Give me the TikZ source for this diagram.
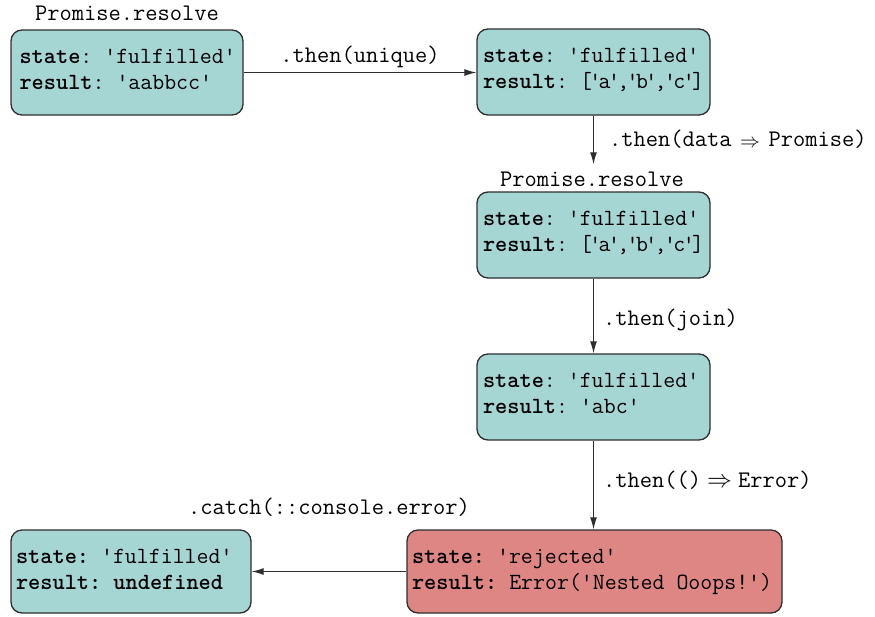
\documentclass[tikz,border=0pt]{standalone}
\usepackage{fontspec}
\usetikzlibrary{arrows.meta}
\definecolor{tealfill}{HTML}{A5D6D4}
\definecolor{redfill}{HTML}{DE8684}
\definecolor{edgecol}{HTML}{2E2E2E}
\newcommand{\arr}{\makebox[0.525em]{$\Rightarrow$}}
\newcommand{\sarr}{\makebox[0.525em]{\raisebox{-1pt}{\scalebox{0.8}{$\Rightarrow$}}}}
\newcommand{\nq}{\makebox[0.29em]{'}}
\newcommand{\boxtext}[4]{%
  \node[txt] (#1a) at ([shift={(#2pt,-34pt)}]#1.north west) {#3};
  \node[txt] (#1b) at ([shift={(#2pt,-60pt)}]#1.north west) {#4};}
\frenchspacing
\begin{document}
\frenchspacing
\begin{tikzpicture}[x=1pt,y=-1pt,
  font=\ttfamily\fontsize{23.2}{26}\selectfont\frenchspacing,
  box/.style={draw=edgecol, line width=1.3pt, rounded corners=11pt, inner sep=0pt},
  ok/.style={box, fill=tealfill},
  bad/.style={box, fill=redfill},
  txt/.style={inner sep=0pt, anchor=base west},
  conn/.style={draw=edgecol, line width=1.2pt, -{Latex[length=12pt,width=7pt]}},
  lbl/.style={inner sep=0pt, anchor=base, font=\ttfamily\fontsize{23.8}{26}\selectfont\frenchspacing}]
\useasboundingbox (0,0) rectangle (875,616);

\node[ok, minimum width=232pt, minimum height=85pt] (A) at (127,72.5) {};
\node[ok, minimum width=233pt, minimum height=86pt] (B) at (593.5,72) {};
\node[ok, minimum width=233pt, minimum height=86pt] (C) at (593.5,235) {};
\node[ok, minimum width=233pt, minimum height=86pt] (D) at (593.5,397) {};
\node[bad, minimum width=375pt, minimum height=83pt] (E) at (594.5,571.5) {};
\node[ok, minimum width=240pt, minimum height=83pt] (F) at (131,571.5) {};

\boxtext{A}{9}{\textbf{state}: 'fulfilled'}{\textbf{result}: 'aabbcc'}
\boxtext{B}{6.5}{\textbf{state}: 'fulfilled'}{\textbf{result}: [\nq a\nq,\nq b\nq,\nq c\nq]}
\boxtext{C}{6.5}{\textbf{state}: 'fulfilled'}{\textbf{result}: [\nq a\nq,\nq b\nq,\nq c\nq]}
\boxtext{D}{6.5}{\textbf{state}: 'fulfilled'}{\textbf{result}: 'abc'}
\boxtext{E}{5.5}{\textbf{state:} 'rejected'}{\textbf{result:} Error('Nested Ooops!')}
\boxtext{F}{5.5}{\textbf{state:} 'fulfilled'}{\textbf{result: undefined}}

\node[lbl] (Al) at (127,20) {Promise.resolve};
\node[lbl] (Cl) at (592,186) {Promise.resolve};

\draw[conn] (A.east) -- (A.east -| B.west)
  node[lbl, midway, yshift=10pt] (L1) {.then(unique)};
\draw[conn, shorten >=7pt] (B.south) -- (B.south |- Cl.north)
  node[lbl, anchor=base west, midway, xshift=15pt, yshift=-3pt] (L2) {.then(data \sarr{} Promise)};
\draw[conn] (C.south) -- (D.north)
  node[lbl, anchor=base west, midway, xshift=9pt, yshift=-9pt] (L3) {.then(join)};
\draw[conn] (D.south) -- (D.south |- E.north)
  node[lbl, anchor=base west, midway, xshift=9pt, yshift=-2pt] (L4) {.then(() \arr{} Error)};
\draw[conn] (E.west) -- (E.west -| F.east)
  node[lbl, midway, yshift=57pt] (L5) {.catch(::console.error)};
\end{tikzpicture}
\end{document}
